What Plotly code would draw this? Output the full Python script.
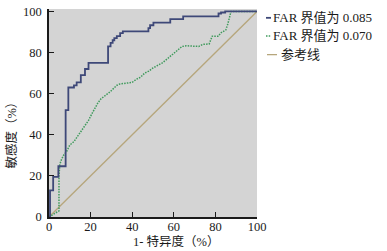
import plotly.graph_objects as go

# ---- data ----
blue_name = "FAR 界值为 0.085"
green_name = "FAR 界值为 0.070"
ref_name = "参考线"

blue_x = [0, 0.5, 2.0, 4.5, 8, 9.3, 12, 13.3, 15.3, 17.3, 19, 28.4, 29.6, 30.6, 31.4, 32.6, 34.2,
          35.5, 47.8, 48.6, 50.2, 58.3, 64.5, 81.5, 82.7, 84.7, 100]
blue_y = [0, 13, 19.5, 24.7, 52, 63, 64, 65.5, 69, 72, 75, 83, 84.7, 86, 87, 88, 89.5,
          90.3, 91.9, 93.3, 94.6, 96.3, 97.6, 99, 99.5, 100, 100]

green_x = [0, 2.4, 3.5, 4.8, 4.8, 5.2, 6, 7, 8.5, 10, 12, 14.5, 17, 19, 20.5, 22, 23.5, 25, 27,
           29.5, 31, 32.5, 34, 37, 40, 42, 44, 46, 48, 50, 52, 54.5, 57.5, 60, 62.5, 64, 66,
           72, 74, 77, 78.5, 81.5, 82.5, 85, 86, 87, 87.5, 100]
green_y = [0, 1.5, 2.5, 3, 20, 25.6, 28, 30, 32, 35, 36.7, 40.5, 44, 47, 50, 53, 55.5, 57.5, 59,
           61, 62.5, 64, 64.7, 65, 65.5, 67, 68, 70, 71, 72.5, 73.5, 75, 77.5, 79.5, 81.5, 83, 83.3,
           83, 84, 84.2, 88, 88, 89.5, 91, 94, 98, 100, 100]

ref_x = [0, 100]
ref_y = [0, 100]

tick_vals = [0, 20, 40, 60, 80, 100]
tick_text = ["0", "20", "40", "60", "80", "100"]
x_title = "1- 特异度（%）"
y_title = "敏感度（%）"

# ---- styles ----
FONT = "Liberation Serif, Times New Roman, Noto Sans CJK SC, serif"
C_BLUE = "#3e4878"
C_GREEN = "#3f9a5c"
C_REF = "#b6a67c"
GREEN_DASH = "1.5px,1.2px"

fig = go.Figure()
fig.add_trace(go.Scatter(x=ref_x, y=ref_y, mode="lines", name=ref_name,
                         line=dict(color=C_REF, width=1.3), showlegend=False))
fig.add_trace(go.Scatter(x=green_x, y=green_y, mode="lines", name=green_name,
                         line=dict(color=C_GREEN, width=1.5, dash=GREEN_DASH), showlegend=False))
fig.add_trace(go.Scatter(x=blue_x, y=blue_y, mode="lines", name=blue_name,
                         line=dict(color=C_BLUE, width=1.8, shape="hv"), showlegend=False))

L, R, T, B = 49, 130, 5, 34
W, H = 387, 251
pw, ph = W - L - R, H - T - B

def px2paper(px, py):
    return (px - L) / pw, (H - B - py) / ph

fig.update_layout(
    width=W, height=H,
    margin=dict(l=L, r=R, t=T, b=B),
    paper_bgcolor="white",
    plot_bgcolor="#d4d4d4",
    font=dict(family=FONT, size=12, color="#1a1a1a"),
    showlegend=False,
)
fig.update_xaxes(range=[0, 100], tickvals=tick_vals, ticktext=tick_text,
                 ticks="inside", ticklen=5, tickwidth=1.2, tickcolor="#1a1a1a",
                 showline=True, linecolor="#1a1a1a", linewidth=1.5,
                 showgrid=False, zeroline=False, tickfont=dict(size=12.5),
                 ticklabelstandoff=-3)
fig.update_yaxes(range=[0, 101.2], tickvals=tick_vals, ticktext=tick_text,
                 ticks="inside", ticklen=5, tickwidth=1.2, tickcolor="#1a1a1a",
                 showline=True, linecolor="#1a1a1a", linewidth=1.5,
                 showgrid=False, zeroline=False, tickfont=dict(size=12.5),
                 ticklabelstandoff=3)

# axis titles
ax, ay = px2paper(176, 242)
fig.add_annotation(text=x_title, x=ax, y=ay, xref="paper", yref="paper",
                   showarrow=False, xanchor="center", yanchor="middle",
                   font=dict(size=12.5, family=FONT))
ax, ay = px2paper(12, 131)
fig.add_annotation(text=y_title, x=ax, y=ay, xref="paper", yref="paper",
                   showarrow=False, xanchor="center", yanchor="middle", textangle=-90,
                   font=dict(size=12.5, family=FONT))

# legend (custom, short line samples)
legend_rows = [(blue_name, C_BLUE, "solid", 1.8, 266, 271, 271, 14),
               (green_name, C_GREEN, GREEN_DASH, 1.5, 266, 271, 271, 32.5),
               (ref_name, C_REF, "solid", 1.3, 267, 277, 279, 51.5)]
for name, col, dash, wdt, x0, x1, xt, yy in legend_rows:
    p0x, p0y = px2paper(x0, yy)
    p1x, _ = px2paper(x1, yy)
    fig.add_shape(type="line", xref="paper", yref="paper", x0=p0x, x1=p1x, y0=p0y, y1=p0y,
                  line=dict(color=col, width=wdt, dash=dash))
    tx, ty = px2paper(xt, yy)
    fig.add_annotation(text=name, x=tx, y=ty, xref="paper", yref="paper", showarrow=False,
                       xanchor="left", yanchor="middle", font=dict(size=13, family=FONT))

fig.write_html("out.html", config={"displayModeBar": False},
               post_script="document.body.style.margin='0px';")
